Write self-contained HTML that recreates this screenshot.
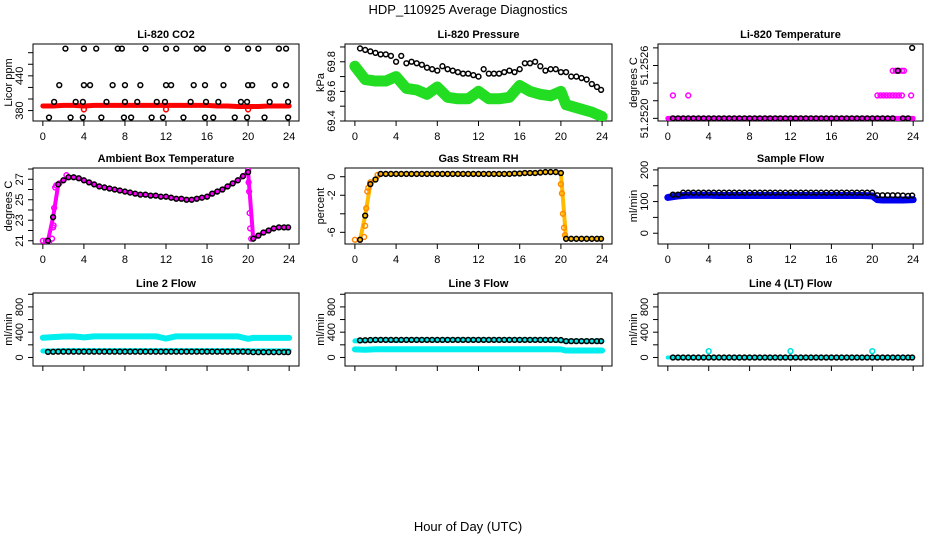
<!DOCTYPE html>
<html><head><meta charset="utf-8">
<style>
body{margin:0;background:#fff;}
svg{display:block;font-family:"Liberation Sans",sans-serif;}
</style></head>
<body>
<svg id="chart" width="936" height="540" viewBox="0 0 936 540">
<text x="468" y="14" font-size="13" text-anchor="middle">HDP_110925  Average Diagnostics</text>
<text x="468" y="531" font-size="13" text-anchor="middle">Hour of Day (UTC)</text>
</svg>
<script>
// ---- shared data ----
const xTicks = [0,4,8,12,16,20,24];
const hours = [0.5,1,1.5,2,2.5,3,3.5,4,4.5,5,5.5,6,6.5,7,7.5,8,8.5,9,9.5,10,10.5,11,11.5,12,12.5,13,13.5,14,14.5,15,15.5,16,16.5,17,17.5,18,18.5,19,19.5,20,20.5,21,21.5,22,22.5,23,23.5,23.9];
const bandHours = [0,1,2,3,4,5,6,7,8,9,10,11,12,13,14,15,16,17,18,19,20,20.5,21,22,23,24];

// CO2
const co2Hours = [2.2,4,5.2,7.3,7.7,10,12,13,15,15.6,18,20,21,23,23.7, 1.6,4,4.6,6.8,8,9.5,12,12.5,14.7,15.8,17.6,20,20.4,22.6,23.7, 1.1,3.2,3.9,6.2,8,9.2,11.1,11.9,14.4,15.9,17.1,19.3,19.9,22.1,23.9, 0.6,2.7,3.9,5.7,7.9,8.6,10.6,11.7,13.7,15.8,16.6,18.7,19.9,21.6,23.9];
const co2Values = [487,487,487,487,487,487,487,487,487,487,487,487,487,487,487, 424,424,424,424,424,424,424,424,424,424,424,424,424,424,424, 395,395,395,395,395,395,395,395,395,395,395,395,395,395,395, 368,368,368,368,368,368,368,368,368,368,368,368,368,368,368];
const co2Red = [388,388,389,389,388,389,389,389,389,389,389,389,389,389,389,389,389,388,388,387,387,387,387,388,388,388];
const co2DipHours = [4,12,20];
const co2DipValues = [382,382,382];

// Pressure
const presBlack = [69.89,69.88,69.87,69.86,69.85,69.85,69.84,69.80,69.84,69.79,69.80,69.79,69.78,69.76,69.75,69.74,69.77,69.75,69.74,69.73,69.72,69.72,69.71,69.70,69.75,69.72,69.72,69.72,69.73,69.74,69.73,69.75,69.79,69.79,69.80,69.77,69.74,69.75,69.75,69.73,69.73,69.70,69.70,69.69,69.68,69.65,69.63,69.61];
const presGreen = [69.77,69.68,69.67,69.67,69.70,69.62,69.61,69.58,69.63,69.56,69.55,69.55,69.60,69.55,69.55,69.56,69.64,69.60,69.58,69.57,69.60,69.51,69.50,69.48,69.46,69.43];

// Li-820 temperature
const tempBlack = [51.2520,51.2520,51.2520,51.2520,51.2520,51.2520,51.2520,51.2520,51.2520,51.2520,51.2520,51.2520,51.2520,51.2520,51.2520,51.2520,51.2520,51.2520,51.2520,51.2520,51.2520,51.2520,51.2520,51.2520,51.2520,51.2520,51.2520,51.2520,51.2520,51.2520,51.2520,51.2520,51.2520,51.2520,51.2520,51.2520,51.2520,51.2520,51.2520,51.2520,51.2520,51.2520,51.2520,51.2520,51.25254,51.2520,51.2520,51.2528];
const tempMagHours = [0.5,2.0,20.5,20.8,21.1,21.4,21.7,22.0,22.3,22.6,22.9,23.8,22.0,22.3,22.6,22.9,23.1];
const tempMagValues = [51.25226,51.25226,51.25226,51.25226,51.25226,51.25226,51.25226,51.25226,51.25226,51.25226,51.25226,51.25226,51.25254,51.25254,51.25254,51.25254,51.25254];
const tempMagBase = [51.2520,51.2520,51.2520,51.2520,51.2520,51.2520,51.2520,51.2520,51.2520,51.2520,51.2520,51.2520,51.2520,51.2520,51.2520,51.2520,51.2520,51.2520,51.2520,51.2520,51.2520,51.2520,51.2520,51.2520,51.2520,51.2520];

// Ambient box temperature
const ambBlack = [21.0,23.3,26.5,26.9,27.2,27.2,27.1,26.9,26.7,26.5,26.3,26.2,26.1,26.0,25.9,25.8,25.7,25.6,25.5,25.5,25.4,25.4,25.3,25.3,25.2,25.1,25.1,25.0,25.0,25.1,25.2,25.3,25.6,25.8,26.0,26.3,26.6,26.9,27.3,27.7,21.2,21.5,21.8,22.0,22.2,22.3,22.3,22.3];
const ambMagHours = [0,0.3,0.6,0.9,1.0,1.05,1.1,1.2,1.3,1.6,2.3,20.0,20.05,20.1,20.15,20.2,20.3];
const ambMagValues = [21.0,21.0,20.8,21.2,22.3,22.5,24.2,26.2,26.4,26.6,27.4,27.9,26.7,25.8,23.7,22.2,21.2];

// Gas stream RH
const rhBlack = [-6.8,-4.2,-0.8,-0.3,0.3,0.3,0.3,0.3,0.3,0.3,0.3,0.3,0.3,0.3,0.3,0.3,0.3,0.3,0.3,0.3,0.3,0.3,0.3,0.3,0.3,0.3,0.3,0.3,0.3,0.3,0.35,0.35,0.4,0.4,0.4,0.45,0.5,0.5,0.5,0.4,-6.7,-6.7,-6.7,-6.7,-6.7,-6.7,-6.7,-6.7];
const rhOrangeHours = [0,0.5,0.9,1.0,1.1,1.2,1.3,1.5,2.2,20.0,20.1,20.2,20.3,20.4];
const rhOrangeValues = [-6.8,-6.8,-6.5,-5.3,-3.4,-1.6,-1.2,-0.6,0.2,-0.8,-1.8,-4.0,-5.5,-6.3];

// Sample flow
const sfBlack = [122,122,128,128,128,128,128,128,128,128,128,128,128,128,128,128,128,128,128,128,128,128,128,128,128,128,128,128,128,128,128,128,128,128,128,128,128,128,128,128,120,120,120,120,120,119,118,119];
const sfBlue = [113,118,120,120,120,119,119,119,119,119,119,119,119,119,119,119,119,119,119,119,118,106,105,105,105,106];

// Line 2 flow
const l2Black = [88,90,92,92,92,92,92,92,92,92,92,92,92,92,92,92,92,92,92,92,92,92,92,92,92,92,92,92,92,92,92,92,92,92,92,92,92,92,92,90,85,85,85,85,85,85,85,85];
const l2CyanHigh = [312,322,332,334,318,334,334,334,334,334,334,334,300,334,334,334,334,334,334,334,295,310,310,310,310,310];
const l2CyanLow = [102,102,108,108,108,108,108,108,108,108,108,108,108,108,108,108,108,108,108,108,108,105,105,105,105,105];

// Line 3 flow
const l3Black = [270,272,275,278,278,278,278,278,278,278,278,278,278,278,278,278,278,278,278,278,278,278,278,278,278,278,278,278,278,278,278,278,278,278,278,278,278,278,278,275,258,258,258,258,258,258,258,258];
const l3CyanHigh = [262,268,278,278,268,278,278,278,275,278,278,278,278,278,278,278,278,278,278,278,268,258,258,258,258,258];
const l3CyanLow = [128,122,130,130,130,130,130,130,130,130,130,130,130,130,130,130,130,130,130,130,128,110,110,110,110,110];

// Line 4 flow
const l4Black = [0,0,0,0,0,0,0,0,0,0,0,0,0,0,0,0,0,0,0,0,0,0,0,0,0,0,0,0,0,0,0,0,0,0,0,0,0,0,0,0,0,0,0,0,0,0,0,0];
const l4Cyan = [0,0,0,0,0,0,0,0,0,0,0,0,0,0,0,0,0,0,0,0,0,0,0,0,0,0];
const l4SpikeHours = [4,12,20];
const l4SpikeValues = [100,100,100];

// ---- drawing ----
const NS = 'http://www.w3.org/2000/svg';
const svg = document.getElementById('chart');
function mk(tag, attrs, parent){
  const e = document.createElementNS(NS, tag);
  for (const k in attrs) e.setAttribute(k, attrs[k]);
  (parent || svg).appendChild(e);
  return e;
}
function makePanel(cfg){
  const g = mk('g', {});
  
  
  const x0 = cfg.x0, x1 = cfg.x1, y0 = cfg.y0, y1 = cfg.y1;
  const xmin = -0.96, xmax = 24.96;
  const sx = h => x0 + (h - xmin) / (xmax - xmin) * (x1 - x0);
  const sy = v => y1 - (v - cfg.ymin) / (cfg.ymax - cfg.ymin) * (y1 - y0);
  const box = mk('rect', {x:x0, y:y0, width:x1-x0, height:y1-y0, fill:'none', stroke:'#000', 'stroke-width':1}, g);
  
  
  const t = mk('text', {x:(x0+x1)/2, y:y0-6, 'font-size':11, 'font-weight':'bold', 'text-anchor':'middle'}, g);
  t.textContent = cfg.title;
  
  
  // x axis
  const xa = mk('g', {}, g);
  
  
  mk('line', {x1:sx(0), x2:sx(24), y1:y1, y2:y1, stroke:'#000'}, xa);
  xTicks.forEach(v => {
    mk('line', {x1:sx(v), x2:sx(v), y1:y1, y2:y1+5, stroke:'#000'}, xa);
    if (cfg.xlabels){
      const tl = mk('text', {x:sx(v), y:y1+19, 'font-size':11, 'text-anchor':'middle'}, xa);
      tl.textContent = v;
      
      
    }
  });
  // y axis
  const ya = mk('g', {}, g);
  
  
  const ax = x0;
  cfg.yticks.forEach(v => {
    mk('line', {x1:ax-5, x2:ax, y1:sy(v), y2:sy(v), stroke:'#000'}, ya);
  });
  cfg.ylabels.forEach((lab, i) => {
    const yy = sy(cfg.ylabelVals[i]);
    const tl = mk('text', {x:ax-10, y:yy, 'font-size':11, 'text-anchor':'middle', transform:`rotate(-90 ${ax-10} ${yy})`}, ya);
    tl.textContent = lab;
    
    
  });
  const yt = mk('text', {x:ax-21, y:(y0+y1)/2, 'font-size':11, 'text-anchor':'middle', transform:`rotate(-90 ${ax-21} ${(y0+y1)/2})`}, g);
  yt.textContent = cfg.ylab;
  
  
  const clip = 'clip-' + cfg.name;
  const cp = mk('clipPath', {id:clip}, g);
  mk('rect', {x:x0, y:y0, width:x1-x0, height:y1-y0}, cp);
  const plot = mk('g', {'clip-path':`url(#${clip})`}, g);
  return {g:plot, sx, sy};
}
function band(p, hs, vs, color, w, name){
  const pl = mk('polyline', {points:hs.map((h,i)=>p.sx(h)+','+p.sy(vs[i])).join(' '), fill:'none', stroke:color, 'stroke-width':w, 'stroke-linecap':'round', 'stroke-linejoin':'round'}, p.g);
  
  
}
function pts(p, hs, vs, color, name){
  const gg = mk('g', {}, p.g);
  
  
  hs.forEach((h,i) => {
    const c = mk('circle', {cx:p.sx(h), cy:p.sy(vs[i]), r:2.4, fill:'none', stroke:color, 'stroke-width':1.5}, gg);
    
    
  });
}
const C1 = [33,299], C2 = [345,612], C3 = [658,923];
const R1 = [44,121], R2 = [168,244], R3 = [293,366];

// CO2
let p = makePanel({name:'co2-panel', title:'Li-820 CO2', ylab:'Licor ppm', x0:C1[0], x1:C1[1], y0:R1[0], y1:R1[1], ymin:362, ymax:495, yticks:[380,400,420,440,460,480], ylabels:['380','440'], ylabelVals:[380,440], xlabels:true});
band(p, bandHours, co2Red, '#ff0000', 5, 'co2-red-series');
pts(p, co2DipHours, co2DipValues, '#ff0000', 'co2-red-dips');
pts(p, co2Hours, co2Values, '#000', 'co2-black-series');

// Pressure
p = makePanel({name:'pressure-panel', title:'Li-820 Pressure', ylab:'kPa', x0:C2[0], x1:C2[1], y0:R1[0], y1:R1[1], ymin:69.4, ymax:69.92, yticks:[69.4,69.5,69.6,69.7,69.8,69.9], ylabels:['69.4','69.6','69.8'], ylabelVals:[69.4,69.6,69.8], xlabels:true});
band(p, bandHours, presGreen, '#22dd22', 11, 'pressure-green-series');
pts(p, hours, presBlack, '#000', 'pressure-black-series');

// Li-820 temperature
p = makePanel({name:'li820-temperature-panel', title:'Li-820 Temperature', ylab:'degrees C', x0:C3[0], x1:C3[1], y0:R1[0], y1:R1[1], ymin:51.25197, ymax:51.252844, yticks:[51.2520,51.2522,51.2524,51.2526,51.2528], ylabels:['51.2520','51.2526'], ylabelVals:[51.2520,51.2526], xlabels:true});
band(p, bandHours, tempMagBase, '#ff00ff', 5, 'temperature-magenta-base');
pts(p, tempMagHours, tempMagValues, '#ff00ff', 'temperature-magenta-series');
pts(p, hours, tempBlack, '#000', 'temperature-black-series');

// Ambient
p = makePanel({name:'ambient-temperature-panel', title:'Ambient Box Temperature', ylab:'degrees C', x0:C1[0], x1:C1[1], y0:R2[0], y1:R2[1], ymin:20.68, ymax:28.1, yticks:[21,22,23,24,25,26,27,28], ylabels:['21','23','25','27'], ylabelVals:[21,23,25,27], xlabels:true});
band(p, hours, ambBlack, '#ff00ff', 4, 'ambient-magenta-band');
pts(p, ambMagHours, ambMagValues, '#ff00ff', 'ambient-magenta-series');
pts(p, hours, ambBlack, '#000', 'ambient-black-series');

// RH
p = makePanel({name:'gas-rh-panel', title:'Gas Stream RH', ylab:'percent', x0:C2[0], x1:C2[1], y0:R2[0], y1:R2[1], ymin:-7.26, ymax:0.94, yticks:[-6,-4,-2,0], ylabels:['-6','-2','0'], ylabelVals:[-6,-2,0], xlabels:true});
band(p, hours, rhBlack, '#ffbb00', 4, 'rh-orange-band');
pts(p, rhOrangeHours, rhOrangeValues, '#ff8800', 'rh-orange-series');
pts(p, hours, rhBlack, '#000', 'rh-black-series');

// Sample flow
p = makePanel({name:'sample-flow-panel', title:'Sample Flow', ylab:'ml/min', x0:C3[0], x1:C3[1], y0:R2[0], y1:R2[1], ymin:-34, ymax:206, yticks:[0,50,100,150,200], ylabels:['0','100','200'], ylabelVals:[0,100,200], xlabels:true});
band(p, bandHours, sfBlue, '#0000ee', 7, 'sample-flow-blue-series');
pts(p, hours, sfBlack, '#000', 'sample-flow-black-series');

// Line 2
p = makePanel({name:'line2-flow-panel', title:'Line 2 Flow', ylab:'ml/min', x0:C1[0], x1:C1[1], y0:R3[0], y1:R3[1], ymin:-135, ymax:1020, yticks:[0,200,400,600,800,1000], ylabels:['0','400','800'], ylabelVals:[0,400,800], xlabels:false});
band(p, bandHours, l2CyanHigh, '#00eeee', 6, 'line2-cyan-high');
band(p, bandHours, l2CyanLow, '#00eeee', 5, 'line2-cyan-low');
pts(p, hours, l2Black, '#000', 'line2-black-series');

// Line 3
p = makePanel({name:'line3-flow-panel', title:'Line 3 Flow', ylab:'ml/min', x0:C2[0], x1:C2[1], y0:R3[0], y1:R3[1], ymin:-135, ymax:1020, yticks:[0,200,400,600,800,1000], ylabels:['0','400','800'], ylabelVals:[0,400,800], xlabels:false});
band(p, bandHours, l3CyanHigh, '#00eeee', 5, 'line3-cyan-high');
band(p, bandHours, l3CyanLow, '#00eeee', 6, 'line3-cyan-low');
pts(p, hours, l3Black, '#000', 'line3-black-series');

// Line 4
p = makePanel({name:'line4-flow-panel', title:'Line 4 (LT) Flow', ylab:'ml/min', x0:C3[0], x1:C3[1], y0:R3[0], y1:R3[1], ymin:-135, ymax:1020, yticks:[0,200,400,600,800,1000], ylabels:['0','400','800'], ylabelVals:[0,400,800], xlabels:false});
band(p, bandHours, l4Cyan, '#00eeee', 4, 'line4-cyan-series');
pts(p, l4SpikeHours, l4SpikeValues, '#00dddd', 'line4-cyan-spikes');
pts(p, hours, l4Black, '#000', 'line4-black-series');
</script>
</body></html>
